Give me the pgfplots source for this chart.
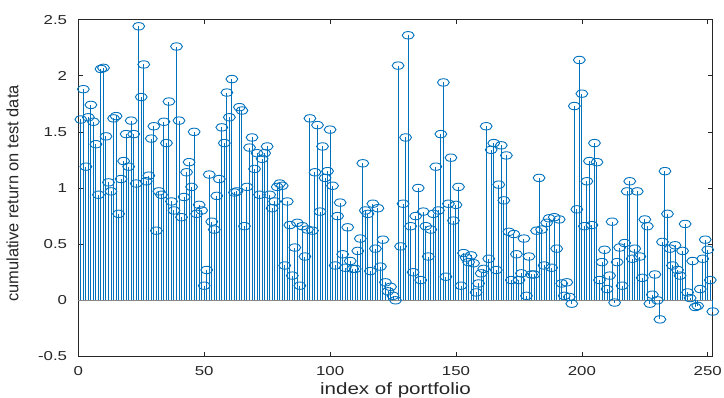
\documentclass[border=0pt]{standalone}
\usepackage{pgfplots}
\usepackage{pgfplotstable}
\usepackage{graphicx}
\usepackage{fontspec}
\setmainfont{Liberation Sans}
\pgfplotsset{compat=1.18}
\definecolor{mblue}{RGB}{0,114,189}
\definecolor{maxis}{RGB}{38,38,38}
\newcommand{\sx}[1]{\scalebox{1.3}[1]{#1}}
\pgfplotstableread{
x y
1 1.61
2 1.88
3 1.19
4 1.63
5 1.74
6 1.59
7 1.39
8 0.94
9 2.06
10 2.07
11 1.46
12 1.05
13 0.97
14 1.62
15 1.64
16 0.77
17 1.08
18 1.24
19 1.48
20 1.19
21 1.60
22 1.48
23 1.04
24 2.44
25 1.81
26 2.10
27 1.06
28 1.11
29 1.44
30 1.55
31 0.62
32 0.97
33 0.94
34 1.59
35 1.40
36 1.77
37 0.88
38 0.80
39 2.26
40 1.60
41 0.74
42 0.92
43 1.14
44 1.23
45 1.01
46 1.50
47 0.77
48 0.85
49 0.80
50 0.13
51 0.27
52 1.12
53 0.70
54 0.63
55 0.93
56 1.08
57 1.54
58 1.40
59 1.85
60 1.63
61 1.97
62 0.96
63 0.97
64 1.72
65 1.69
66 0.66
67 1.01
68 1.36
69 1.45
70 1.17
71 1.31
72 0.94
73 1.26
74 1.31
75 1.37
76 0.94
77 0.82
78 0.88
79 1.01
80 1.04
81 1.02
82 0.31
83 0.88
84 0.67
85 0.22
86 0.47
87 0.69
88 0.13
89 0.66
90 0.39
91 0.63
92 1.62
93 0.62
94 1.14
95 1.56
96 0.79
97 1.37
98 1.09
99 1.15
100 1.52
101 1.02
102 0.31
103 0.75
104 0.87
105 0.41
106 0.29
107 0.65
108 0.35
109 0.28
110 0.28
111 0.44
112 0.55
113 1.22
114 0.80
115 0.77
116 0.26
117 0.86
118 0.46
119 0.82
120 0.30
121 0.54
122 0.16
123 0.08
124 0.12
125 0.04
126 0.00
127 2.09
128 0.48
129 0.86
130 1.45
131 2.36
132 0.66
133 0.25
134 0.75
135 1.00
136 0.18
137 0.79
138 0.66
139 0.39
140 0.63
141 0.77
142 1.19
143 0.80
144 1.48
145 1.94
146 0.21
147 0.86
148 1.27
149 0.71
150 0.85
151 1.01
152 0.13
153 0.42
154 0.38
155 0.34
156 0.40
157 0.33
158 0.07
159 0.15
160 0.24
161 0.28
162 1.55
163 0.37
164 1.34
165 1.40
166 0.27
167 1.03
168 1.38
169 0.89
170 1.29
171 0.61
172 0.18
173 0.59
174 0.41
175 0.18
176 0.24
177 0.55
178 0.04
179 0.39
180 0.23
181 0.23
182 0.62
183 1.09
184 0.63
185 0.31
186 0.69
187 0.73
188 0.29
189 0.74
190 0.46
191 0.72
192 0.15
193 0.04
194 0.16
195 0.03
196 -0.03
197 1.73
198 0.81
199 2.14
200 1.84
201 0.66
202 1.06
203 1.24
204 0.67
205 1.40
206 1.23
207 0.18
208 0.34
209 0.45
210 0.10
211 0.22
212 0.70
213 -0.02
214 0.34
215 0.47
216 0.13
217 0.51
218 0.97
219 1.06
220 0.37
221 0.46
222 0.97
223 0.39
224 0.20
225 0.72
226 0.66
227 -0.03
228 0.05
229 0.23
230 0.00
231 -0.17
232 0.52
233 1.15
234 0.77
235 0.46
236 0.31
237 0.49
238 0.27
239 0.22
240 0.44
241 0.68
242 0.07
243 0.02
244 0.35
245 -0.06
246 -0.05
247 0.10
248 0.37
249 0.54
250 0.45
251 0.18
252 -0.10
}\stemdata
\begin{document}
\begin{tikzpicture}
\useasboundingbox (0,0) rectangle (724bp,398bp);
\begin{axis}[
  at={(78.3bp,41.55bp)}, anchor=south west,
  scale only axis, width=634.5bp, height=336.9bp,
  xmin=0, xmax=252, ymin=-0.5, ymax=2.5,
  xtick={0,50,100,150,200,250},
  xticklabels={\sx{0},\sx{50},\sx{100},\sx{150},\sx{200},\sx{250}},
  ytick={-0.5,0,0.5,1,1.5,2,2.5},
  yticklabels={\sx{-0.5},\sx{0},\sx{0.5},\sx{1},\sx{1.5},\sx{2},\sx{2.5}},
  tick align=inside,
  major tick length=4.7bp,
  tick style={maxis, line width=0.6bp},
  axis line style={maxis, line width=0.8bp},
  ticklabel style={font=\fontsize{13}{15}\selectfont, text=maxis},
  xticklabel style={inner sep=0pt, anchor=north, yshift=-9.5bp},
  yticklabel style={inner sep=0pt, anchor=east, xshift=-11bp},
  clip=false,
]
\addplot[maxis!55, line width=0.9bp, no marks] coordinates {(0,0) (252,0)};
\addplot[ycomb, draw=mblue, line width=1bp, mark=o, mark size=3.7bp,
  mark options={draw=mblue, xscale=1.6, line width=0.9bp, solid}] table[x=x,y=y] {\stemdata};
\end{axis}
\node[rotate=90, anchor=south, inner sep=0pt, font=\fontsize{16.5}{18}\selectfont, text=maxis] at (18.7bp,204.5bp) {cumulative return on test data};
\node[anchor=north, inner sep=0pt, font=\fontsize{16.5}{18}\selectfont, text=maxis] at (395.5bp,16bp) {\scalebox{1.25}[1]{index of portfolio}};
\end{tikzpicture}
\end{document}
